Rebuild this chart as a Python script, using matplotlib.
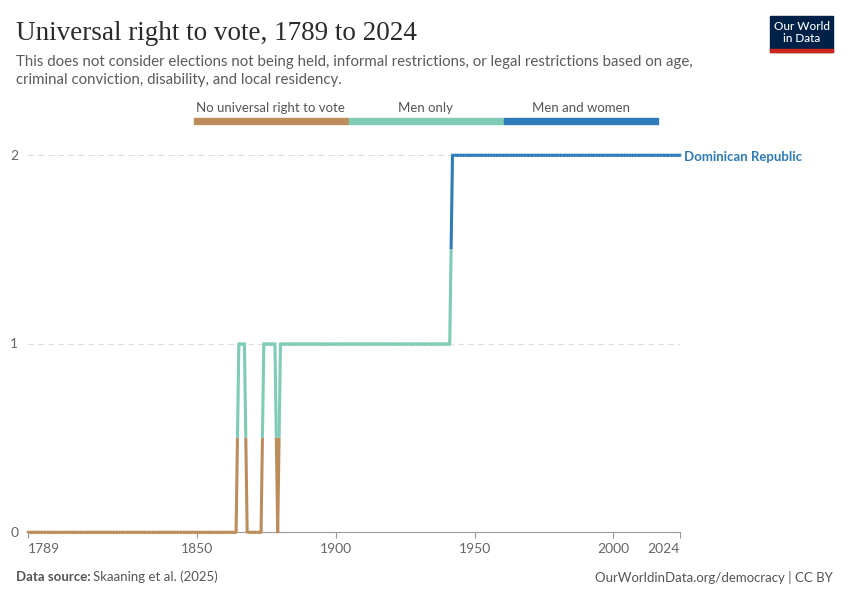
import numpy as np
import matplotlib
matplotlib.use("Agg")
import matplotlib.pyplot as plt
from matplotlib.patches import Rectangle

# years where the category changes, and the category from that year on
change_years = [1789, 1865, 1868, 1874, 1879, 1880, 1942]
change_values = [0, 1, 0, 1, 0, 1, 2]
first_year, last_year = 1789, 2024

categories = ["No universal right to vote", "Men only", "Men and women"]
colors = ["#BC8D5B", "#7ECBB6", "#2D7BB8"]
x_ticks = [1789, 1850, 1900, 1950, 2000, 2024]
y_ticks = [0, 1, 2]
entity = "Dominican Republic"

years = np.arange(first_year, last_year + 1)
values = np.zeros(len(years), dtype=int)
for y0, v in zip(change_years, change_values):
	values[years >= y0] = v

plt.rcParams["font.family"] = ["Lato", "DejaVu Sans"]
fig = plt.figure(figsize=(8.5, 6), dpi=100)

W, H = 850, 600
def fx(px):
	return px / W
def fy(py):
	return 1 - py / H

# plot area: x 1789 -> px 28, 2024 -> px 680 ; y 0 -> px 532, 2 -> px 155
ax = fig.add_axes([fx(28), fy(532), fx(680) - fx(28), fy(155) - fy(532)])
ax.set_xlim(first_year, last_year)
ax.set_ylim(0, 2)

for sp in ["top", "right", "left"]:
	ax.spines[sp].set_visible(False)
ax.spines["bottom"].set_color("#999999")
ax.spines["bottom"].set_linewidth(0.8)

for yv in y_ticks[1:]:
	ax.axhline(yv, color="#dddddd", lw=0.8, ls=(0, (5, 4)), zorder=0)

ax.set_yticks(y_ticks)
ax.set_yticklabels([str(v) for v in y_ticks])
ax.tick_params(axis="y", length=0, pad=7, labelsize=10, labelcolor="#666666")
ax.set_xticks(x_ticks)
ax.set_xticklabels([str(v) for v in x_ticks])
ax.tick_params(axis="x", length=4, width=0.8, color="#999999", pad=4,
	labelsize=10, labelcolor="#666666")
xt = ax.get_xticklabels()
xt[0].set_ha("left")
xt[-1].set_ha("right")

# line segments, each split at the midpoint, coloured by the nearest point's category
lw = 2.2
for i in range(len(years) - 1):
	x0, x1 = years[i], years[i + 1]
	v0, v1 = values[i], values[i + 1]
	xm, vm = (x0 + x1) / 2, (v0 + v1) / 2
	ax.plot([x0, xm], [v0, vm], color=colors[v0], lw=lw, solid_capstyle="butt",
		clip_on=False, zorder=3)
	ax.plot([xm, x1], [vm, v1], color=colors[v1], lw=lw, solid_capstyle="butt",
		clip_on=False, zorder=3)
for c in range(3):
	m = values == c
	ax.scatter(years[m], values[m], s=5, color=colors[c], edgecolors="none",
		clip_on=False, zorder=4, alpha=0.8)

ax.text(last_year + 1.5, values[-1] - 0.01, entity, color=colors[2], fontsize=9.5,
	fontweight="bold", va="center", ha="left", clip_on=False,
	transform=ax.transData)

# title and subtitle
fig.text(fx(16), fy(33), "Universal right to vote, 1789 to 2024", fontsize=19.5,
	family=["Liberation Serif"], color="#2b2b2b", va="center", ha="left")
fig.text(fx(16), fy(71), "This does not consider elections not being held, informal restrictions, or legal restrictions based on age,\ncriminal conviction, disability, and local residency.",
	fontsize=10.8, color="#5b5b5b", va="center", ha="left", linespacing=1.4)

# categorical legend
leg_x0, leg_w = 193, 155
for i, (lab, col) in enumerate(zip(categories, colors)):
	x0 = leg_x0 + i * leg_w
	fig.patches.append(Rectangle((fx(x0 + 0.5), fy(124)), fx(leg_w - 1), fy(118) - fy(124),
		transform=fig.transFigure, color=col))
	fig.text(fx(x0 + leg_w / 2), fy(108), lab, fontsize=9.5, color="#555555",
		ha="center", va="center")

# logo
fig.patches.append(Rectangle((fx(770), fy(52)), fx(63), fy(16) - fy(52),
	transform=fig.transFigure, color="#002147"))
fig.patches.append(Rectangle((fx(770), fy(52)), fx(63), fy(49) - fy(52),
	transform=fig.transFigure, color="#CE261E"))
fig.text(fx(801.5), fy(32.5), "Our World\nin Data", color="white", fontsize=8.5,
	ha="center", va="center", linespacing=1.0, fontweight="medium")

# footer
fig.text(fx(16), fy(577), "Data source:", fontsize=9.5, color="#555555",
	fontweight="bold", ha="left", va="center")
fig.text(fx(93), fy(577), "Skaaning et al. (2025)", fontsize=9.5, color="#555555",
	ha="left", va="center")
fig.text(fx(833), fy(577), "OurWorldinData.org/democracy | CC BY", fontsize=9.5,
	color="#555555", ha="right", va="center")

fig.savefig("out.png", dpi=100)
